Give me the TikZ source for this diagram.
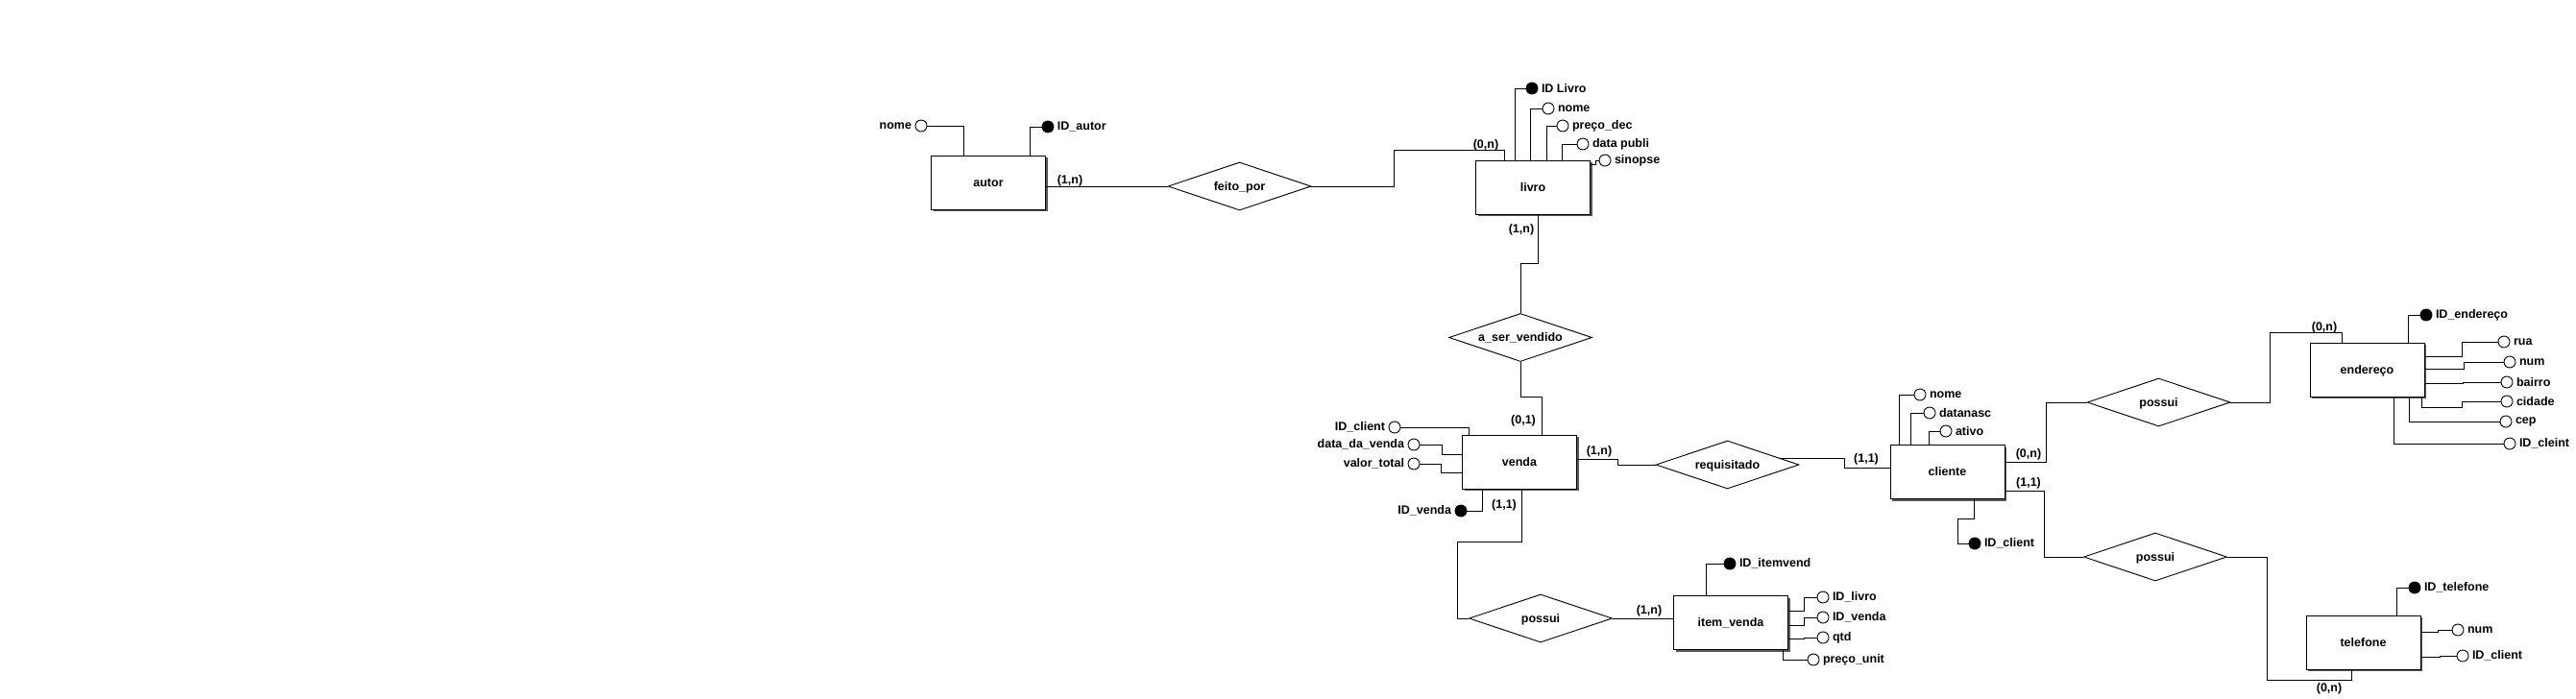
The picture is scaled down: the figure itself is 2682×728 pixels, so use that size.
\documentclass[tikz,border=0pt]{standalone}
\usepackage{fontspec}
\setmainfont{Liberation Sans}
\usetikzlibrary{shapes.geometric,shadows,calc}
\begin{document}
\begin{tikzpicture}[x=1pt,y=-1pt,
  font=\fontsize{12.5}{14}\selectfont\bfseries,
  ent/.style={draw, line width=1pt, fill=white, minimum width=119pt, minimum height=56pt, inner sep=0pt,
    text height=9pt, text depth=1pt,
    drop shadow={shadow xshift=2pt, shadow yshift=-2pt, fill=black!65, opacity=1}},
  rel/.style={diamond, draw, line width=0.9pt, fill=white, minimum width=149pt, minimum height=50pt,
    inner sep=0pt, aspect=3, text height=9pt, text depth=1pt},
  att/.style={circle, draw, line width=0.9pt, fill=white, minimum size=12pt, inner sep=0pt,
    every label/.append style={inner sep=1.5pt, text height=9pt, text depth=1pt}},
  key/.style={att, fill=black},
  card/.style={inner sep=1pt, text height=9pt, text depth=1pt},
  conn/.style={line width=1pt},
]
\useasboundingbox (0,0) rectangle (2682,728);

% entities
\node[ent] (autor) at (1029,190) {autor};
\node[ent] (livro) at (1596,195) {livro};
\node[ent] (venda) at (1582,481) {venda};
\node[ent] (cliente) at (2027.5,491.5) {cliente};
\node[ent] (item) at (1802,648.5) {item\_venda};
\node[ent] (ender) at (2464.5,385) {endereço};
\node[ent] (tel) at (2460.5,669) {telefone};

% relationships
\node[rel] (fp) at (1290.5,194) {feito\_por};
\node[rel] (asv) at (1583,351.5) {a\_ser\_vendido};
\node[rel] (req) at (1798.5,484) {requisitado};
\node[rel] (pv) at (1604,644) {possui};
\node[rel] (pu) at (2247.5,419) {possui};
\node[rel] (pl) at (2244,580) {possui};

% attributes
\node[att, label={left:nome}] (a-nome) at (959,131) {};
\node[key, label={right:ID\_autor}] (a-id) at (1091,132) {};
\node[key, label={right:ID Livro}] (l-id) at (1595,92) {};
\node[att, label={right:nome}] (l-nome) at (1612,113) {};
\node[att, label={right:preço\_dec}] (l-preco) at (1627,131) {};
\node[att, label={right:data publi}] (l-data) at (1648,150) {};
\node[att, label={right:sinopse}] (l-sin) at (1671,167) {};
\node[att, label={left:ID\_client}] (v-idc) at (1452,445) {};
\node[att, label={left:data\_da\_venda}] (v-ddv) at (1472,463) {};
\node[att, label={left:valor\_total}] (v-vt) at (1472,483) {};
\node[key, label={left:ID\_venda}] (v-id) at (1521,532) {};
\node[att, label={right:nome}] (c-nome) at (1999,411) {};
\node[att, label={right:datanasc}] (c-dn) at (2009,430) {};
\node[att, label={right:ativo}] (c-at) at (2026,449) {};
\node[key, label={right:ID\_client}] (c-id) at (2056,566) {};
\node[key, label={right:ID\_itemvend}] (i-id) at (1801,587) {};
\node[att, label={right:ID\_livro}] (i-livro) at (1898,622) {};
\node[att, label={right:ID\_venda}] (i-venda) at (1898,643) {};
\node[att, label={right:qtd}] (i-qtd) at (1898,664) {};
\node[att, label={right:preço\_unit}] (i-pu) at (1888,687) {};
\node[key, label={right:ID\_endereço}] (e-id) at (2526,328) {};
\node[att, label={right:rua}] (e-rua) at (2607,356) {};
\node[att, label={right:num}] (e-num) at (2613,377) {};
\node[att, label={right:bairro}] (e-bai) at (2610,398) {};
\node[att, label={right:cidade}] (e-cid) at (2610,418) {};
\node[att, label={right:cep}] (e-cep) at (2609,439) {};
\node[att, label={right:ID\_cleint}] (e-idc) at (2613,462) {};
\node[key, label={right:ID\_telefone}] (t-id) at (2514,612) {};
\node[att, label={right:num}] (t-num) at (2559,656) {};
\node[att, label={right:ID\_client}] (t-idc) at (2564,683) {};

% attribute connectors
\draw[conn] (a-nome) -| ($(autor.north)+(-26,0)$);
\draw[conn] ($(autor.north)+(43,0)$) |- (a-id);
\draw[conn] ($(livro.north)+(-19,0)$) |- (l-id);
\draw[conn] ($(livro.north)+(-3,0)$) |- (l-nome);
\draw[conn] ($(livro.north)+(14,0)$) |- (l-preco);
\draw[conn] ($(livro.north)+(30,0)$) |- (l-data);
\draw[conn] ($(livro.north east)+(0,5)$) -- ++(5,0) |- (l-sin);
\draw[conn] ($(venda.north)+(-53,0)$) |- (v-idc);
\draw[conn] ($(venda.west)+(0,-8)$) -- ++(-21,0) |- (v-ddv);
\draw[conn] ($(venda.west)+(0,11)$) -- ++(-22,0) |- (v-vt);
\draw[conn] ($(venda.south)+(-39,0)$) |- (v-id);
\draw[conn] ($(cliente.north)+(-50.5,0)$) |- (c-nome);
\draw[conn] ($(cliente.north)+(-38.5,0)$) |- (c-dn);
\draw[conn] ($(cliente.north)+(-19.5,0)$) |- (c-at);
\draw[conn] ($(cliente.south)+(27.5,0)$) -- ++(0,20.5) -| ($(c-id.west)+(-11,0)$) -- (c-id.west);
\draw[conn] ($(item.north)+(-26,0)$) |- (i-id);
\draw[conn] ($(item.east)+(0,-12.5)$) -- ++(16.5,0) |- (i-livro);
\draw[conn] ($(item.east)+(0,2.5)$) -- ++(16.5,0) |- (i-venda);
\draw[conn] ($(item.east)+(0,16.5)$) -- ++(16.5,0) |- (i-qtd);
\draw[conn] ($(item.south)+(54,0)$) |- (i-pu);
\draw[conn] ($(ender.north)+(42.5,0)$) |- (e-id);
\draw[conn] ($(ender.east)+(0,-14)$) -- ++(39,0) |- (e-rua);
\draw[conn] ($(ender.east)+(0,-1)$) -- ++(41,0) |- (e-num);
\draw[conn] ($(ender.east)+(0,14)$) -- ++(40,0) |- (e-bai);
\draw[conn] ($(ender.south)+(56.5,0)$) |- ($(e-cid.west)+(-40,6)$) |- (e-cid);
\draw[conn] ($(ender.south)+(43.5,0)$) |- (e-cep);
\draw[conn] ($(ender.south)+(27.5,0)$) |- (e-idc);
\draw[conn] ($(tel.north)+(34.5,0)$) |- (t-id);
\draw[conn] ($(tel.east)+(0,-11)$) -- ++(18,0) |- (t-num);
\draw[conn] ($(tel.east)+(0,15)$) -- ++(20,0) |- (t-idc);

% relationship connectors
\draw[conn] (fp.west) -- (fp.west -| autor.east);
\draw[conn] (fp.east) -- ++(86,0) |- ($(livro.north)+(-30,-10)$) -- ($(livro.north)+(-30,0)$);
\draw[conn] ($(livro.south)+(5,0)$) |- ($(asv.north)+(0,-52)$) -- (asv.north);
\draw[conn] (asv.south) |- ($(venda.north)+(23,-39)$) -- ($(venda.north)+(23,0)$);
\draw[conn] ($(venda.east)+(0,-3)$) -- ++(42,0) |- (req.west);
\draw[conn] ($(req.east)+(-21.5,-7)$) -- ++(68.5,0) |- ($(cliente.west)+(0,-4.5)$);
\draw[conn] ($(cliente.east)+(0,-10.5)$) -- ++(43,0) |- (pu.west);
\draw[conn] (pu.east) -- ++(41,0) |- ($(ender.north)+(-26.5,-10)$) -- ($(ender.north)+(-26.5,0)$);
\draw[conn] ($(cliente.east)+(0,19.5)$) -- ++(40.5,0) |- (pl.west);
\draw[conn] (pl.east) -- ++(41.5,0) |- ($(tel.south)+(-12.5,11)$) -- ($(tel.south)+(-12.5,0)$);
\draw[conn] ($(venda.south)+(2,0)$) |- ($(pv.west)+(-11.5,-80)$) |- (pv.west);
\draw[conn] (pv.east) -- (pv.east -| item.west);

% cardinalities
\node[card] (k1) at (1114,187) {(1,n)};
\node[card] (k2) at (1547,150) {(0,n)};
\node[card] (k3) at (1584,238) {(1,n)};
\node[card] (k4) at (1586,437) {(0,1)};
\node[card] (k5) at (1665,469) {(1,n)};
\node[card] (k6) at (1943,477) {(1,1)};
\node[card] (k7) at (1566,525) {(1,1)};
\node[card] (k8) at (1717,635) {(1,n)};
\node[card] (k9) at (2112,472) {(0,n)};
\node[card] (k10) at (2112,502) {(1,1)};
\node[card] (k11) at (2420,340) {(0,n)};
\node[card] (k12) at (2425,716) {(0,n)};
\end{tikzpicture}
\end{document}
